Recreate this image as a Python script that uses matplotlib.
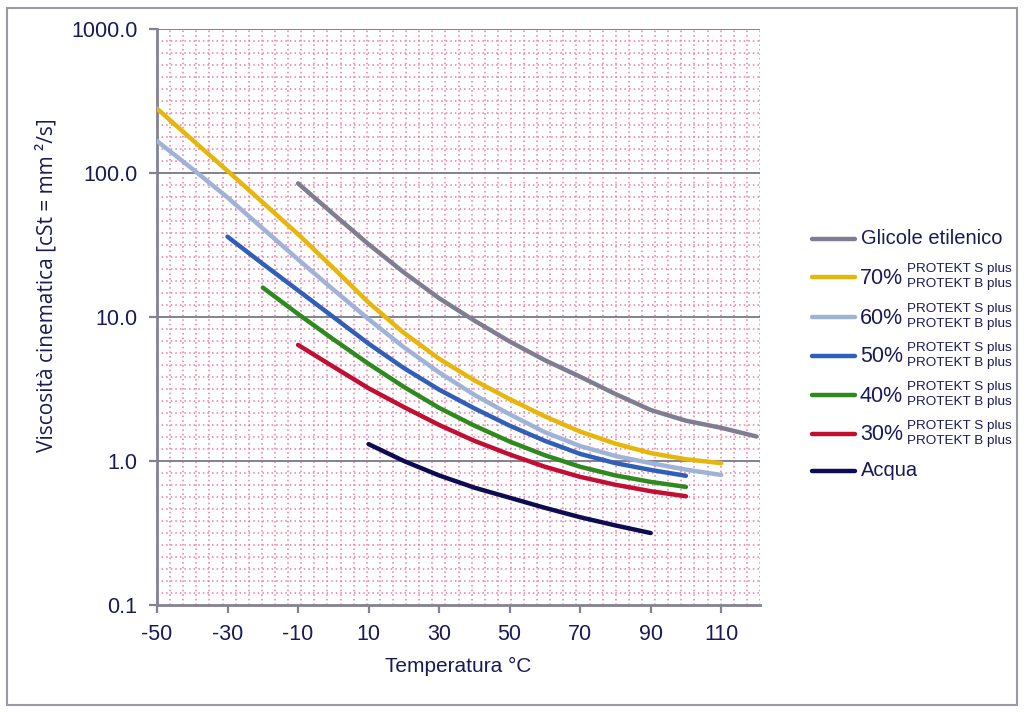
import numpy as np
import matplotlib
matplotlib.use("Agg")
import matplotlib.pyplot as plt
from matplotlib.lines import Line2D
from matplotlib.patches import Rectangle

# temperature (°C) and kinematic viscosity (cSt)
t_glicole = [-10, 0, 10, 20, 30, 40, 50, 60, 70, 80, 90, 100, 110, 120]
v_glicole = [84.7, 51.9, 32.0, 20.4, 13.5, 9.44, 6.76, 5.01, 3.85, 2.92, 2.26, 1.905, 1.70, 1.48]

t_70 = [-50, -40, -30, -20, -10, 0, 10, 20, 30, 40, 50, 60, 70, 80, 90, 100, 110]
v_70 = [280, 170, 103.5, 62.4, 37.6, 21.9, 12.6, 7.76, 5.13, 3.63, 2.69, 2.04, 1.60, 1.32, 1.135, 1.028, 0.966]

t_60 = [-50, -40, -30, -20, -10, 0, 10, 20, 30, 40, 50, 60, 70, 80, 90, 100, 110]
v_60 = [166.7, 107, 67.6, 41.2, 25.1, 15.5, 9.66, 6.17, 4.12, 2.88, 2.11, 1.585, 1.27, 1.084, 0.966, 0.871, 0.80]

t_50 = [-30, -20, -10, 0, 10, 20, 30, 40, 50, 60, 70, 80, 90, 100]
v_50 = [36.1, 23.4, 15.3, 10.0, 6.53, 4.42, 3.13, 2.32, 1.76, 1.38, 1.12, 0.966, 0.867, 0.789]

t_40 = [-20, -10, 0, 10, 20, 30, 40, 50, 60, 70, 80, 90, 100]
v_40 = [16.0, 10.5, 7.0, 4.73, 3.27, 2.34, 1.76, 1.365, 1.096, 0.912, 0.794, 0.716, 0.661]

t_30 = [-10, 0, 10, 20, 30, 40, 50, 60, 70, 80, 90, 100]
v_30 = [6.4, 4.52, 3.2, 2.37, 1.78, 1.38, 1.11, 0.912, 0.776, 0.684, 0.617, 0.569]

t_acqua = [10, 20, 30, 40, 50, 60, 70, 80, 90]
v_acqua = [1.31, 1.0, 0.794, 0.653, 0.556, 0.473, 0.407, 0.357, 0.316]

x_ticks = [-50, -30, -10, 10, 30, 50, 70, 90, 110]
y_ticks = [0.1, 1, 10, 100, 1000]
y_ticklabels = ["0.1", "1.0", "10.0", "100.0", "1000.0"]

series = [
    ("Glicole etilenico", None, t_glicole, v_glicole, "#7e7e92"),
    ("70%", "pk", t_70, v_70, "#e6b60a"),
    ("60%", "pk", t_60, v_60, "#9fb3d8"),
    ("50%", "pk", t_50, v_50, "#2f5fb6"),
    ("40%", "pk", t_40, v_40, "#2e8a1e"),
    ("30%", "pk", t_30, v_30, "#c00f32"),
    ("Acqua", None, t_acqua, v_acqua, "#0c0c52"),
]

txt = "#1a1a58"
axcol = "#828294"
plt.rcParams['font.family'] = ['Liberation Sans', 'DejaVu Sans']

fig = plt.figure(figsize=(10.24, 7.12), dpi=100)
ax = fig.add_axes([157 / 1024, 1 - 605 / 712, 603 / 1024, 576 / 712])

# pink dotted background grid
for f in np.linspace(0, 1, 47)[1:]:
    ax.plot([f, f], [0, 1], transform=ax.transAxes, color="#ec7aa6",
            lw=1.1, ls=(0, (1, 2)), zorder=0)
for f in np.linspace(0, 1, 49)[1:]:
    ax.plot([0, 1], [f, f], transform=ax.transAxes, color="#ec7aa6",
            lw=1.1, ls=(0, (1, 2)), zorder=0)
for y in [1, 10, 100, 1000]:
    ax.axhline(y, color=axcol, lw=1.4, zorder=1)

for name, sub, t, v, col in series:
    ax.plot(t, v, color=col, lw=3.2, solid_capstyle="round",
            solid_joinstyle="round", zorder=3)

ax.set_yscale("log")
ax.set_xlim(-50, 121)
ax.set_ylim(0.1, 1000)
ax.set_xticks(x_ticks)
ax.set_xticklabels([str(x) for x in x_ticks])
ax.set_yticks(y_ticks)
ax.set_yticklabels(y_ticklabels)
ax.yaxis.set_minor_locator(matplotlib.ticker.NullLocator())
ax.tick_params(axis="both", colors=axcol, labelcolor=txt, labelsize=15.5,
               length=6, width=1.6, pad=8)
for s in ["top", "right"]:
    ax.spines[s].set_visible(False)
for s in ["left", "bottom"]:
    ax.spines[s].set_color(axcol)
    ax.spines[s].set_linewidth(2)

ax.set_xlabel("Temperatura °C", fontsize=15, color=txt, labelpad=8)
fig.text(47 / 1024, 1 - 285 / 712, "Viscosità cinematica [cSt = mm ²/s]",
         rotation=90, ha="center", va="center", fontsize=15, color=txt,
         family=["Open Sans", "DejaVu Sans"])

# legend drawn by hand
leg_y = [239, 277, 317, 356, 395, 434, 471]
for (name, sub, t, v, col), py in zip(series, leg_y):
    fy = 1 - py / 712
    fig.add_artist(Line2D([812 / 1024, 855 / 1024], [fy, fy], color=col,
                          lw=3.2, solid_capstyle="round"))
    if sub is None:
        fig.text(861 / 1024, fy, name, fontsize=14.5, color=txt,
                 ha="left", va="center")
    else:
        fig.text(860 / 1024, fy - 1 / 712, name, fontsize=15.5, color=txt,
                 ha="left", va="center")
        fig.text(907 / 1024, fy + 8 / 712, "PROTEKT S plus", fontsize=9.7,
                 color=txt, ha="left", va="center")
        fig.text(907 / 1024, fy - 7 / 712, "PROTEKT B plus", fontsize=9.7,
                 color=txt, ha="left", va="center")

# outer frame
fig.add_artist(Rectangle((7 / 1024, 7 / 712), 1010 / 1024, 697 / 712,
                         transform=fig.transFigure, fill=False,
                         edgecolor="#9a9aa6", lw=1.5))

fig.savefig("out.png", dpi=100)
